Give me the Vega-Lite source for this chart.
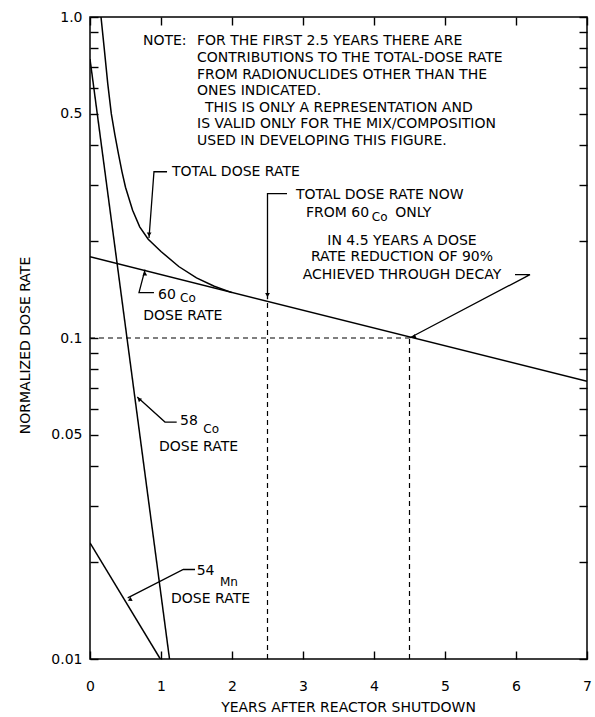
{
  "$schema": "https://vega.github.io/schema/vega-lite/v6.json",
  "width": 497,
  "height": 642,
  "autosize": {"type": "none"},
  "padding": {"left": 90, "top": 17, "right": 8, "bottom": 58},
  "background": "white",
  "config": {
    "view": {"stroke": "black", "strokeWidth": 1.5},
    "axis": {
      "grid": false, "domain": false, "tickColor": "black", "tickWidth": 1.4,
      "labelFont": "DejaVu Sans", "labelFontSize": 14, "labelColor": "black",
      "titleFont": "DejaVu Sans", "titleFontSize": 14, "titleFontWeight": "normal", "titleColor": "black",
      "labelFlush": false, "labelOverlap": false, "labelBound": false
    },
    "text": {"font": "DejaVu Sans", "fontSize": 14, "color": "black"}
  },
  "datasets": {
    "curves": [
      {"series": "60Co", "x": 0, "y": 0.179},
      {"series": "60Co", "x": 7, "y": 0.0733},
      {"series": "58Co", "x": 0, "y": 0.74},
      {"series": "58Co", "x": 1.12, "y": 0.01},
      {"series": "54Mn", "x": 0, "y": 0.023},
      {"series": "54Mn", "x": 0.99, "y": 0.01},
      {"series": "total", "x": 0.155, "y": 1.0},
      {"series": "total", "x": 0.2, "y": 0.8},
      {"series": "total", "x": 0.25, "y": 0.62},
      {"series": "total", "x": 0.3, "y": 0.5},
      {"series": "total", "x": 0.35, "y": 0.43},
      {"series": "total", "x": 0.4, "y": 0.375},
      {"series": "total", "x": 0.45, "y": 0.33},
      {"series": "total", "x": 0.5, "y": 0.295},
      {"series": "total", "x": 0.6, "y": 0.25},
      {"series": "total", "x": 0.7, "y": 0.222},
      {"series": "total", "x": 0.82, "y": 0.203},
      {"series": "total", "x": 1.0, "y": 0.186},
      {"series": "total", "x": 1.25, "y": 0.167},
      {"series": "total", "x": 1.5, "y": 0.154},
      {"series": "total", "x": 1.75, "y": 0.145},
      {"series": "total", "x": 2.0, "y": 0.1385}
    ],
    "dashed": [
      {"id": "h", "x": 0, "y": 0.1},
      {"id": "h", "x": 4.5, "y": 0.1},
      {"id": "v1", "x": 2.5, "y": 0.01},
      {"id": "v1", "x": 2.5, "y": 0.1297},
      {"id": "v2", "x": 4.5, "y": 0.01},
      {"id": "v2", "x": 4.5, "y": 0.1}
    ],
    "leaders": [
      {"id": "total", "i": 1, "x": 1.085, "y": 0.3296},
      {"id": "total", "i": 2, "x": 0.901, "y": 0.3296},
      {"id": "total", "i": 3, "x": 0.831, "y": 0.205},
      {"id": "co60", "i": 1, "x": 0.775, "y": 0.1633},
      {"id": "co60", "i": 2, "x": 0.69, "y": 0.1385},
      {"id": "co60", "i": 3, "x": 0.901, "y": 0.1385},
      {"id": "co58", "i": 1, "x": 0.666, "y": 0.0655},
      {"id": "co58", "i": 2, "x": 1.056, "y": 0.0547},
      {"id": "co58", "i": 3, "x": 1.221, "y": 0.0547},
      {"id": "mn54", "i": 1, "x": 0.531, "y": 0.0155},
      {"id": "mn54", "i": 2, "x": 1.314, "y": 0.019},
      {"id": "mn54", "i": 3, "x": 1.479, "y": 0.019},
      {"id": "now", "i": 1, "x": 2.775, "y": 0.2815},
      {"id": "now", "i": 2, "x": 2.5, "y": 0.2815},
      {"id": "now", "i": 3, "x": 2.5, "y": 0.132},
      {"id": "decay", "i": 1, "x": 4.5, "y": 0.1},
      {"id": "decay", "i": 2, "x": 6.197, "y": 0.1576},
      {"id": "decay", "i": 3, "x": 5.986, "y": 0.1576}
    ],
    "arrows": [
      {"kind": "down", "x": 0.833, "y": 0.21},
      {"kind": "down", "x": 2.5, "y": 0.136},
      {"kind": "up", "x": 0.772, "y": 0.159},
      {"kind": "upleft", "x": 0.69, "y": 0.0645},
      {"kind": "downleft", "x": 0.56, "y": 0.0153},
      {"kind": "downleft", "x": 4.56, "y": 0.1007}
    ],
    "labels": [
      {"label": "NOTE:", "x": 0.746, "y": 0.842},
      {"label": "FOR THE FIRST 2.5 YEARS THERE ARE", "x": 1.507, "y": 0.842},
      {"label": "CONTRIBUTIONS TO THE TOTAL-DOSE RATE", "x": 1.507, "y": 0.747},
      {"label": "FROM RADIONUCLIDES OTHER THAN THE", "x": 1.507, "y": 0.66},
      {"label": "ONES INDICATED.", "x": 1.507, "y": 0.5885},
      {"label": "THIS IS ONLY A REPRESENTATION AND", "x": 1.62, "y": 0.52},
      {"label": "IS VALID ONLY FOR THE MIX/COMPOSITION", "x": 1.507, "y": 0.4637},
      {"label": "USED IN DEVELOPING THIS FIGURE.", "x": 1.507, "y": 0.4114},
      {"label": "TOTAL DOSE RATE", "x": 1.155, "y": 0.3296},
      {"label": "TOTAL DOSE RATE NOW", "x": 2.901, "y": 0.2795},
      {"label": "FROM 60", "x": 3.042, "y": 0.2444},
      {"label": "ONLY", "x": 4.3, "y": 0.2444},
      {"label": "60", "x": 0.958, "y": 0.1365},
      {"label": "DOSE RATE", "x": 0.751, "y": 0.1169},
      {"label": "58", "x": 1.268, "y": 0.05498},
      {"label": "DOSE RATE", "x": 0.972, "y": 0.04573},
      {"label": "54", "x": 1.502, "y": 0.01878},
      {"label": "DOSE RATE", "x": 1.141, "y": 0.01537}
    ],
    "subs": [
      {"label": "Co", "x": 3.97, "y": 0.2385},
      {"label": "Co", "x": 1.268, "y": 0.1334},
      {"label": "Co", "x": 1.596, "y": 0.0522},
      {"label": "Mn", "x": 1.831, "y": 0.0174}
    ],
    "centered": [
      {"label": "IN 4.5 YEARS A DOSE", "x": 4.394, "y": 0.2011},
      {"label": "RATE REDUCTION OF 90%", "x": 4.394, "y": 0.1784},
      {"label": "ACHIEVED THROUGH DECAY", "x": 4.394, "y": 0.1576}
    ]
  },
  "resolve": {"axis": {"x": "independent", "y": "independent"}},
  "layer": [
    {
      "data": {"name": "curves"},
      "mark": {"type": "line", "color": "black", "strokeWidth": 1.5, "clip": true},
      "encoding": {
        "x": {"field": "x", "type": "quantitative",
          "scale": {"domain": [0, 7], "nice": false, "zero": false},
          "axis": {"orient": "bottom", "values": [0, 1, 2, 3, 4, 5, 6, 7], "format": "d", "ticks": true, "tickSize": -8, "labelPadding": 28,
            "title": "YEARS AFTER REACTOR SHUTDOWN", "titleX": 258, "titleY": 48, "titleBaseline": "middle"}},
        "y": {"field": "y", "type": "quantitative",
          "scale": {"type": "log", "domain": [0.01, 1], "nice": false},
          "axis": {"orient": "left", "ticks": true, "tickSize": -8,
            "values": [0.01, 0.02, 0.03, 0.04, 0.05, 0.06, 0.07, 0.08, 0.09, 0.1, 0.2, 0.3, 0.4, 0.5, 0.6, 0.7, 0.8, 0.9, 1],
            "labelExpr": "datum.value == 1 ? '1.0' : ((datum.value == 0.5 || datum.value == 0.1 || datum.value == 0.05 || datum.value == 0.01) ? toString(datum.value) : '')",
            "labelPadding": 16,
            "title": "NORMALIZED DOSE RATE", "titleX": -65, "titleY": 328, "titleBaseline": "middle", "titleAngle": -90}},
        "detail": {"field": "series"}
      }
    },
    {
      "data": {"name": "dashed"},
      "mark": {"type": "line", "color": "black", "strokeWidth": 1.2, "strokeDash": [5, 4]},
      "encoding": {
        "x": {"field": "x", "type": "quantitative",
          "scale": {"domain": [0, 7], "nice": false, "zero": false},
          "axis": {"orient": "top", "values": [0, 1, 2, 3, 4, 5, 6, 7], "ticks": true, "tickSize": -8, "labels": false, "title": null}},
        "y": {"field": "y", "type": "quantitative",
          "scale": {"type": "log", "domain": [0.01, 1], "nice": false},
          "axis": {"orient": "right", "ticks": true, "tickSize": -8,
            "values": [0.01, 0.02, 0.03, 0.04, 0.05, 0.06, 0.07, 0.08, 0.09, 0.1, 0.2, 0.3, 0.4, 0.5, 0.6, 0.7, 0.8, 0.9, 1],
            "labels": false, "title": null}},
        "detail": {"field": "id"}
      }
    },
    {
      "data": {"name": "leaders"},
      "mark": {"type": "line", "color": "black", "strokeWidth": 1.3},
      "encoding": {
        "x": {"field": "x", "type": "quantitative", "axis": null},
        "y": {"field": "y", "type": "quantitative", "axis": null},
        "detail": {"field": "id"},
        "order": {"field": "i"}
      }
    },
    {
      "data": {"name": "arrows"},
      "transform": [{"filter": "datum.kind == 'down'"}],
      "mark": {"type": "point", "shape": "triangle-down", "filled": true, "color": "black", "size": 22, "opacity": 1},
      "encoding": {
        "x": {"field": "x", "type": "quantitative", "axis": null},
        "y": {"field": "y", "type": "quantitative", "axis": null}
      }
    },
    {
      "data": {"name": "arrows"},
      "transform": [{"filter": "datum.kind == 'up'"}],
      "mark": {"type": "point", "shape": "triangle-up", "filled": true, "color": "black", "size": 22, "opacity": 1},
      "encoding": {
        "x": {"field": "x", "type": "quantitative", "axis": null},
        "y": {"field": "y", "type": "quantitative", "axis": null}
      }
    },
    {
      "data": {"name": "arrows"},
      "transform": [{"filter": "datum.kind == 'upleft'"}],
      "mark": {"type": "point", "shape": "triangle-up", "angle": -48, "filled": true, "color": "black", "size": 22, "opacity": 1},
      "encoding": {
        "x": {"field": "x", "type": "quantitative", "axis": null},
        "y": {"field": "y", "type": "quantitative", "axis": null}
      }
    },
    {
      "data": {"name": "arrows"},
      "transform": [{"filter": "datum.kind == 'downleft'"}],
      "mark": {"type": "point", "shape": "triangle-up", "angle": -117, "filled": true, "color": "black", "size": 22, "opacity": 1},
      "encoding": {
        "x": {"field": "x", "type": "quantitative", "axis": null},
        "y": {"field": "y", "type": "quantitative", "axis": null}
      }
    },
    {
      "data": {"name": "labels"},
      "mark": {"type": "text", "align": "left", "baseline": "middle"},
      "encoding": {
        "x": {"field": "x", "type": "quantitative", "axis": null},
        "y": {"field": "y", "type": "quantitative", "axis": null},
        "text": {"field": "label"}
      }
    },
    {
      "data": {"name": "subs"},
      "mark": {"type": "text", "align": "left", "baseline": "middle", "fontSize": 12},
      "encoding": {
        "x": {"field": "x", "type": "quantitative", "axis": null},
        "y": {"field": "y", "type": "quantitative", "axis": null},
        "text": {"field": "label"}
      }
    },
    {
      "data": {"name": "centered"},
      "mark": {"type": "text", "align": "center", "baseline": "middle"},
      "encoding": {
        "x": {"field": "x", "type": "quantitative", "axis": null},
        "y": {"field": "y", "type": "quantitative", "axis": null},
        "text": {"field": "label"}
      }
    }
  ]
}
